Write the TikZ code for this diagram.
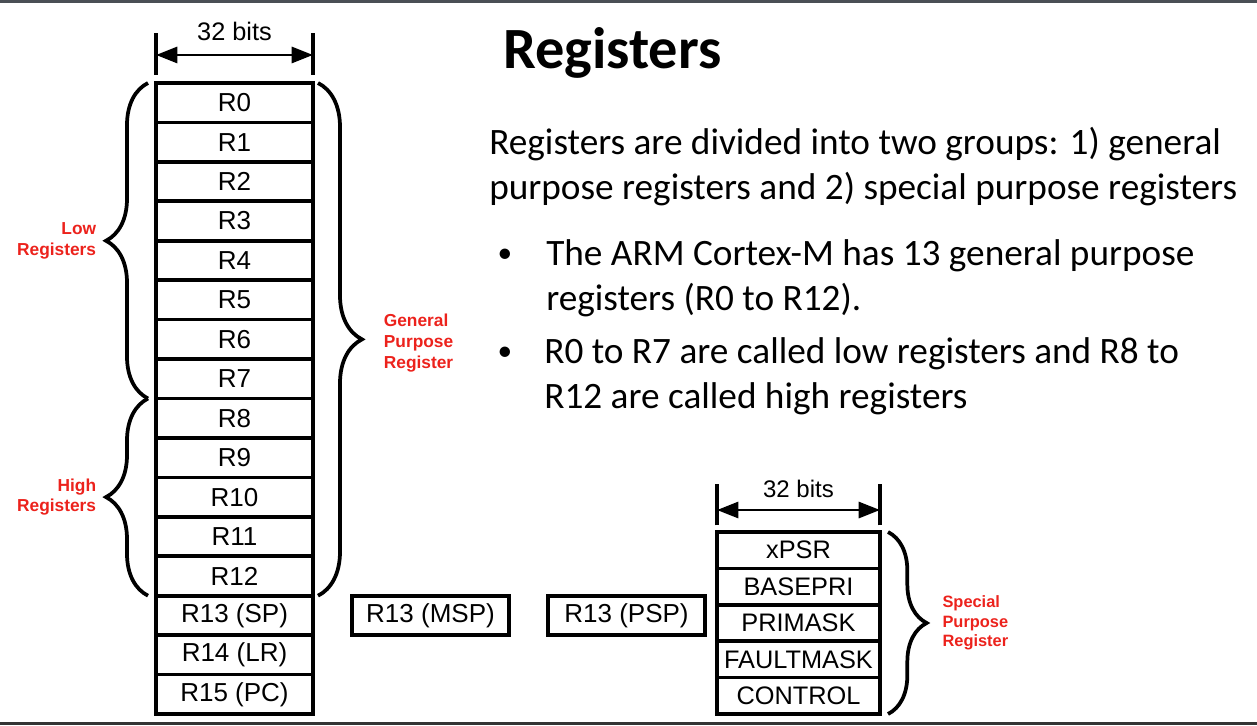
\documentclass[tikz,border=0pt]{standalone}
\usepackage{fontspec}
\setmainfont{Liberation Sans}
\newfontfamily\slidefont{Carlito}
\usetikzlibrary{positioning,arrows.meta,decorations.pathreplacing}
\definecolor{labelred}{RGB}{236,34,28}
\definecolor{topbar}{RGB}{74,79,85}
\definecolor{botbar}{RGB}{52,52,52}

\begin{document}
\begin{tikzpicture}[x=0.75pt,y=-0.75pt,
    reg/.style={draw,line width=2.8pt,minimum width=117.75pt,minimum height=29.58pt,
                inner sep=0pt,outer sep=0pt,font=\fontsize{19.5}{22}\selectfont},
    sreg/.style={reg,minimum width=122.25pt,minimum height=27.3pt,font=\fontsize{19}{22}\selectfont},
    curly/.style={decorate,decoration={brace,amplitude=#1},line width=2.8pt},
    red label/.style={inner sep=0pt,text=labelred,font=\fontsize{13}{15.6}\selectfont\bfseries},
    bitarrow/.style={line width=2.2pt,{Triangle[length=16pt,width=12pt]}-{Triangle[length=16pt,width=12pt]}},
    dimtick/.style={line width=2.4pt},
    slide/.style={inner sep=0pt,align=left,font=\slidefont\fontsize{27.95}{33.75}\selectfont}]
  \useasboundingbox (0,0) rectangle (1257,725);
  \fill[topbar] (0,0) rectangle (1257,3);
  \fill[botbar] (0,722) rectangle (1257,725);

  % general purpose registers
  \node[reg] (r0) at (234.5,102.7) {R0};
  \foreach \i [remember=\i as \last (initially 0)] in {1,...,12}
    \node[reg,below=0pt of r\last] (r\i) {R\i};
  \node[reg,below=0pt of r12] (r13) {R13 (SP)};
  \node[reg,below=0pt of r13] (r14) {R14 (LR)};
  \node[reg,below=0pt of r14] (r15) {R15 (PC)};

  % banked stack pointers
  \node[reg,right=29.25pt of r13] (msp) {R13 (MSP)};
  \node[reg,right=29.25pt of msp] (psp) {R13 (PSP)};

  % special purpose registers
  \node[sreg] (xpsr) at (798.5,550.2) {xPSR};
  \node[sreg,below=0pt of xpsr] (basepri) {BASEPRI};
  \node[sreg,below=0pt of basepri] (primask) {PRIMASK};
  \node[sreg,below=0pt of primask] (faultmask) {FAULTMASK};
  \node[sreg,below=0pt of faultmask] (control) {CONTROL};

  % width marks
  \draw[dimtick] ([yshift=6pt]r0.north west) -- ([yshift=37.5pt]r0.north west);
  \draw[dimtick] ([yshift=6pt]r0.north east) -- ([yshift=37.5pt]r0.north east);
  \draw[bitarrow] ([yshift=21pt]r0.north west) -- ([yshift=21pt]r0.north east)
    node[midway,yshift=18pt,font=\fontsize{19}{22}\selectfont] (bits) {32 bits};
  \draw[dimtick] ([yshift=5pt]xpsr.north west) -- ([yshift=36pt]xpsr.north west);
  \draw[dimtick] ([yshift=5pt]xpsr.north east) -- ([yshift=36pt]xpsr.north east);
  \draw[bitarrow] ([yshift=16.5pt]xpsr.north west) -- ([yshift=16.5pt]xpsr.north east)
    node[midway,yshift=15.5pt,font=\fontsize{18}{21}\selectfont] (sbits) {32 bits};

  % braces
  \draw[curly=31.5pt] ([xshift=-6pt]r7.south west) -- ([xshift=-6pt]r0.north west)
    node[midway,left=37.5pt,red label,align=right] (low) {Low\\Registers};
  \draw[curly=31.5pt] ([xshift=-6pt]r12.south west) -- ([xshift=-6pt]r8.north west)
    node[midway,left=37.5pt,red label,align=right] (high) {High\\Registers};
  \draw[curly=33pt] ([xshift=3.75pt]r0.north east) -- ([xshift=3.75pt]r12.south east)
    node[midway,right=48pt,yshift=-3pt,red label,align=left] (gpr) {General\\Purpose\\Register};
  \draw[curly=29pt] ([xshift=6pt]xpsr.north east) -- ([xshift=6pt]control.south east)
    node[midway,right=39.5pt,red label,align=left,font=\fontsize{12.3}{14.6}\selectfont\bfseries] (spr) {Special\\Purpose\\Register};

  % slide text
  \node[slide,anchor=base west,font=\slidefont\bfseries\fontsize{43.8}{52}\selectfont] (title) at (503,68) {Registers};
  \node[slide,anchor=west] (intro) at (489,166.5)
    {Registers are divided into two groups: 1) general\\purpose registers and 2) special purpose registers};
  \node[slide,anchor=base,font=\slidefont\fontsize{22}{26}\selectfont] (dot1) at (505,262) {\textbullet};
  \node[slide,anchor=west] (item1) at (546,278.5)
    {The ARM Cortex-M has 13 general purpose\\registers (R0 to R12).};
  \node[slide,anchor=base,font=\slidefont\fontsize{22}{26}\selectfont] (dot2) at (505,360) {\textbullet};
  \node[slide,anchor=west] (item2) at (544,376.5)
    {R0 to R7 are called low registers and R8 to\\R12 are called high registers};
\end{tikzpicture}
\end{document}
